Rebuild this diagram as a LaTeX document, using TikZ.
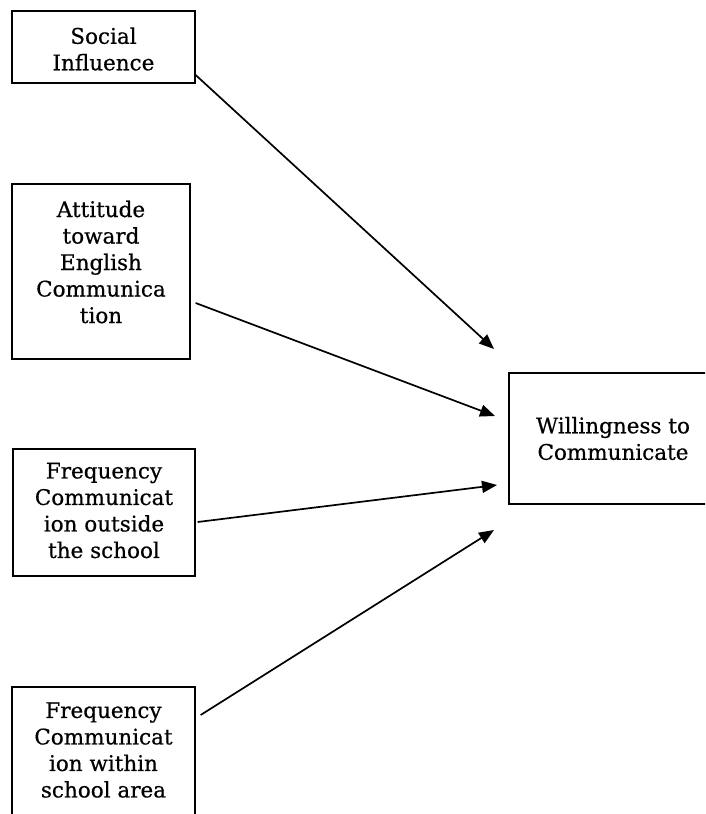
\documentclass[tikz,border=0pt]{standalone}
\usepackage{fontspec}
\setmainfont{DejaVu Serif}[FakeBold=0.6]
\usetikzlibrary{arrows.meta}
\tikzset{
  box/.style={draw=black, line width=1.3pt, rectangle, inner sep=0pt},
  boxtext/.style={align=center, font=\fontsize{21.5}{26.5}\selectfont, inner sep=0pt},
  conn/.style={line width=1.7pt, -{Triangle[length=15pt,width=12pt]}}
}
\begin{document}
\begin{tikzpicture}[x=1pt,y=-1pt]
\useasboundingbox (0,0) rectangle (705,814);
\clip (0,0) rectangle (705,814);
\node[box, minimum width=183pt, minimum height=72pt,
  label={[boxtext, name=tI, yshift=-2pt]center:Social\\Influence}] (sI) at (103.5,47) {};
\node[box, minimum width=178pt, minimum height=175pt,
  label={[boxtext, name=tA, yshift=9.5pt]center:Attitude\\toward\\English\\Communica\\tion}] (att) at (101,271.5) {};
\node[box, minimum width=182pt, minimum height=127pt,
  label={[boxtext, name=tO, yshift=2pt]center:Frequency\\Communicat\\ion outside\\the school}] (fo) at (104,512.5) {};
\node[box, minimum width=183pt, minimum height=160pt,
  label={[boxtext, name=tW, yshift=17pt]center:Frequency\\Communicat\\ion within\\school area}] (fw) at (103.5,767) {};
\node[box, minimum width=208pt, minimum height=131pt,
  label={[boxtext, name=tC]center:Willingness to\\Communicate}] (wtc) at (613,438.5) {};
\coordinate (e1) at (494,349);
\coordinate (e2) at (495,416);
\coordinate (e3) at (497,485);
\coordinate (e4) at (494,530);
\draw[conn] ([yshift=-28pt]sI.east) -- (e1);
\draw[conn] ([yshift=-31.5pt,xshift=5pt]att.east) -- (e2);
\draw[conn] ([yshift=-9.5pt,xshift=2pt]fo.east) -- (e3);
\draw[conn] ([yshift=52pt,xshift=5pt]fw.east) -- (e4);
\end{tikzpicture}
\end{document}
